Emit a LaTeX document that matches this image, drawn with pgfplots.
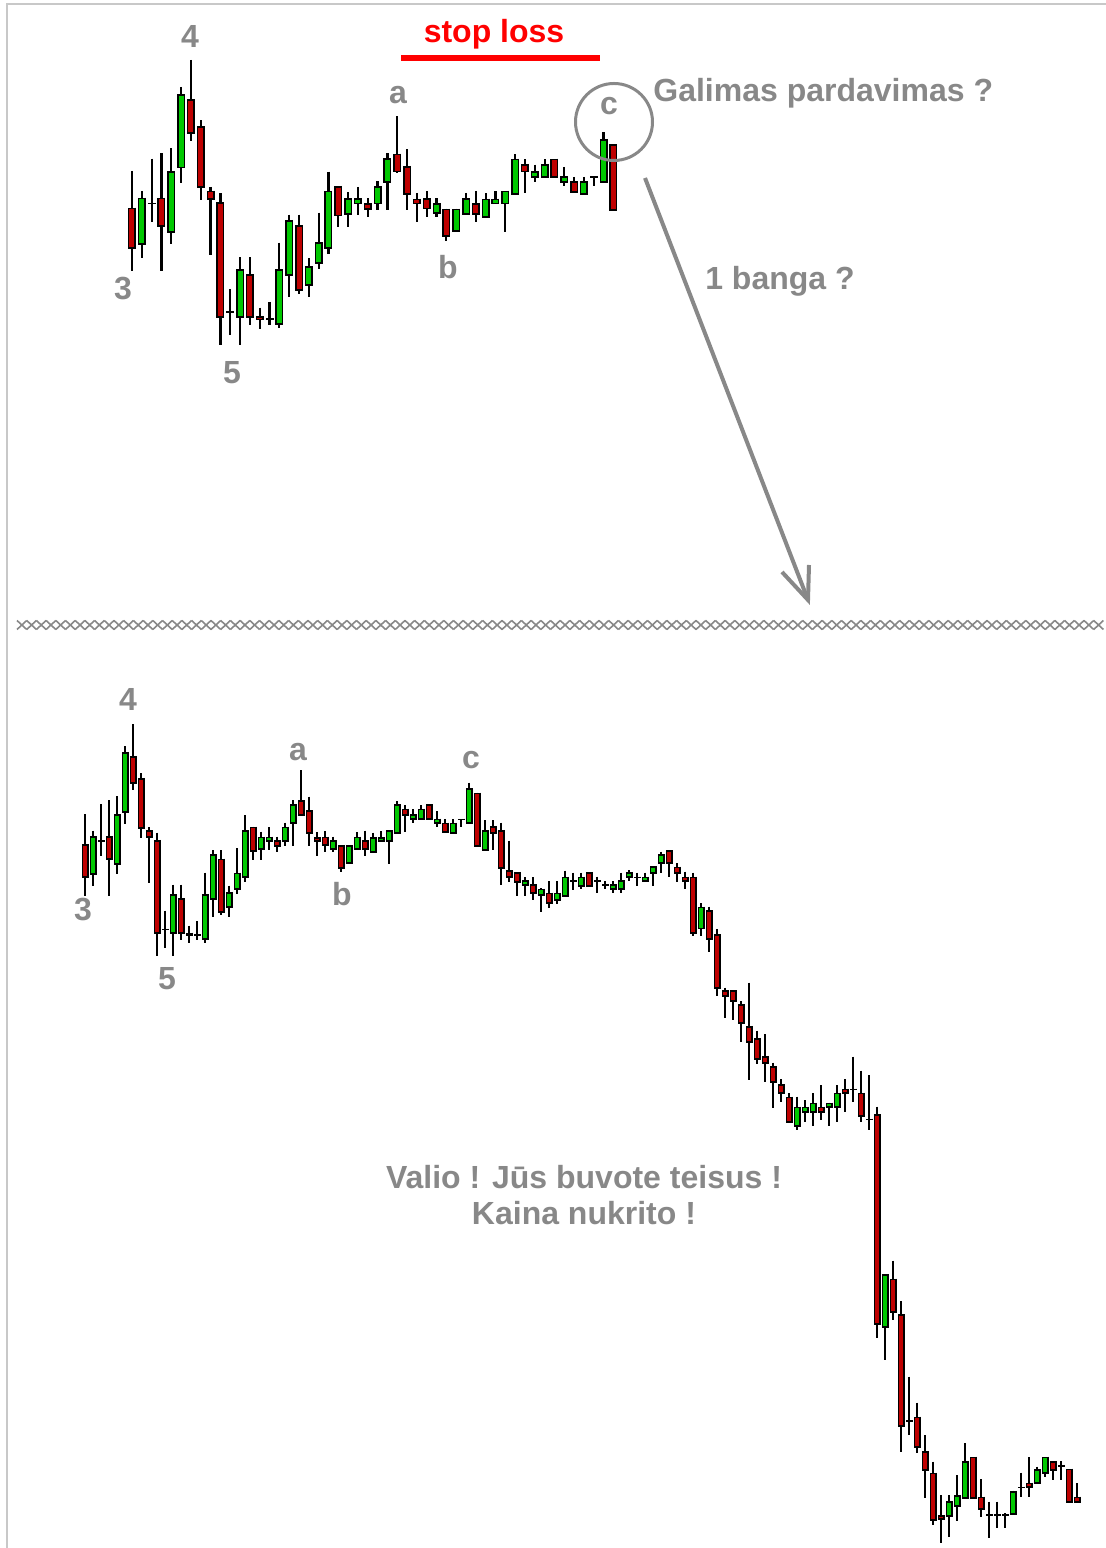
\documentclass[border=0pt]{standalone}
\usepackage{fontspec}
\setmainfont{Liberation Sans}
\usepackage{pgfplots}
\usepackage{pgfplotstable}
\pgfplotsset{compat=1.18}

\definecolor{candleup}{RGB}{0,200,0}
\definecolor{candledn}{RGB}{190,0,0}
\definecolor{lblgray}{RGB}{136,136,136}
\definecolor{framegray}{RGB}{200,200,200}

% candles in bottom-panel pixels: i h(wick top) l(wick bottom) o c
\pgfplotstableread{
i h l o c
0 814.3 896 845 877.3
1 830.7 885.7 874 836.7
2 804.3 856 841 841
3 800 896 836.7 859.3
4 796 874 864 815
5 746 824 811.7 752.7
6 724 790 756.7 783.3
7 773.3 838.3 778.7 827.7
8 827.3 882.7 831 837.3
9 832.7 956 840.7 933.3
10 910.7 948.3 929.3 929.3
11 884.7 956 933.3 895
12 884.7 940 899 933.3
13 925.7 943.3 933.3 935
14 921 940 935 935
15 872.7 942.7 939.3 895
16 850 916.7 899.3 855
17 850 915 859.3 911.7
18 885.7 916.7 907.3 892.7
19 848.3 894 889.3 873.3
20 815 881.7 877.3 831
21 826.7 860 827.3 850.7
22 831.7 860 849.3 837.3
23 827.3 850 841 837.3
24 836.7 851.7 841 845.7
25 822.7 846 841 827.3
26 800 846 823.3 804.7
27 770 815.7 801 815
28 796.7 846 811 833.3
29 832.3 856 837.7 841
30 831 851.7 837.3 845
31 836.7 852.3 849 841
32 845 871.7 845.7 867.7
33 845 864 863.3 845.7
34 832.3 850 849.3 837.3
35 830.7 856 841 849.3
36 832.7 851.7 851.7 837.7
37 831 841.7 841 837.7
38 831 864 841 831
39 801 833.3 833.3 805
40 805 832.3 809.3 815
41 809.3 823.3 819.3 815
42 805 820 819.3 809.3
43 805 819.3 805 819.3
44 811 826.7 823.3 819.3
45 819.3 832.3 823.3 831.7
46 819.3 833.3 833.3 823.3
47 819.3 826.7 819.3 819.3
48 782.7 823.3 823.3 789
49 792.7 846 793.3 846
50 820 850 850 830.7
51 820 850 826.7 833.3
52 822.7 885 830.7 867.7
53 840.7 881.7 871 877.3
54 872.7 896 872.7 881.7
55 877.3 896 885 881
56 877.3 900 885 893.3
57 888.3 911.7 895 889.3
58 881 908.3 893.3 903.3
59 881 904 900 893.3
60 870.7 896 896 877.3
61 872.7 890 881 881
62 872.7 889.3 885.7 877.3
63 872.7 885.7 872.7 885.7
64 876.7 893.3 881 881
65 881 889.3 885 885
66 881 893.3 889.3 885
67 872.7 893.3 889.3 881
68 870 881 877.3 872.7
69 872.7 885.7 877.3 877.3
70 872.7 881.7 881 877.3
71 866.7 885.7 873.3 866.7
72 851.7 873.3 863.3 855
73 850.7 877.3 851 863.3
74 863.3 881.7 867.3 873.3
75 871.7 889.3 877.3 881
76 872.7 936 877.3 933.3
77 903.3 936 928.5 907.5
78 906.7 951.7 911 939.3
79 929 996 935 987.7
80 987.7 1018.3 991 996
81 991 1020 991 1001
82 1001 1041.7 1005 1023.3
83 982.7 1080 1026.7 1041.7
84 1030.7 1064 1039 1059.3
85 1034 1081.7 1056.7 1063.3
86 1062.7 1108.3 1066.7 1081.7
87 1079.3 1101.7 1085 1093.3
88 1093.3 1121.7 1097.3 1121.7
89 1096.7 1130 1125.7 1107.3
90 1100 1121.7 1111.7 1107.3
91 1093.3 1125.7 1111.7 1103.3
92 1085 1120 1107.3 1111.7
93 1102.7 1125.7 1107.3 1103.3
94 1085 1121.7 1107.3 1093.3
95 1079.3 1111.7 1089.3 1093.3
96 1056.7 1101.7 1089.3 1089.3
97 1070.7 1121.7 1093.3 1116
98 1075 1130 1119.3 1119.3
99 1106.7 1338.3 1115 1324
100 1275 1360 1327.3 1275
101 1260.7 1320 1279.3 1311.7
102 1301 1451.7 1315 1426
103 1376.7 1435 1421 1421
104 1402.7 1452.7 1417.3 1447.3
105 1435 1498.3 1451.7 1470
106 1461.7 1525 1473.3 1520
107 1495 1542.7 1515.7 1519.3
108 1495 1536.7 1516 1501.7
109 1475 1520.7 1506 1496
110 1443.3 1498.3 1498.3 1461.7
111 1457.3 1498.3 1457.3 1498.3
112 1479 1516.7 1497.3 1509.3
113 1501.7 1538.3 1515 1515
114 1501.7 1528.3 1515 1515
115 1513.3 1528.3 1515 1515
116 1490.7 1514 1514 1491.7
117 1472.7 1496.7 1487.3 1487.3
118 1457.3 1496.7 1483.3 1487.3
119 1466.7 1483.3 1483.3 1470
120 1457.3 1476.7 1473.3 1457.3
121 1461 1480 1461.7 1470
122 1461 1480 1465.7 1465.7
123 1469.3 1501.7 1469.3 1501.7
124 1483.3 1501.7 1497.3 1501.7
}\candledata

% #1 wick width, #2 body outline width, #3 body fill width, #4 outline pad, #5 fill pad
\newcommand{\candleplots}[5]{%
  \addplot[draw=none, forget plot, error bars/.cd, y dir=plus, y explicit, error mark=none,
    error bar style={draw=black, line width=#1}]
    table[x=i, y=h, y error plus expr={\thisrow{l}-\thisrow{h}}] {\candledata};
  \addplot[draw=none, forget plot, error bars/.cd, y dir=plus, y explicit, error mark=none,
    error bar style={draw=black, line width=#2}]
    table[x=i, y expr={min(\thisrow{o},\thisrow{c})-#4},
      y error plus expr={abs(\thisrow{o}-\thisrow{c})+2*#4}] {\candledata};
  \addplot[draw=none, forget plot, restrict expr to domain={\thisrow{o}-\thisrow{c}}{0.5:5000},
    error bars/.cd, y dir=plus, y explicit, error mark=none,
    error bar style={draw=candleup, line width=#3}]
    table[x=i, y expr={\thisrow{c}+#5},
      y error plus expr={max(\thisrow{o}-\thisrow{c}-2*#5,0)}] {\candledata};
  \addplot[draw=none, forget plot, restrict expr to domain={\thisrow{c}-\thisrow{o}}{0.5:5000},
    error bars/.cd, y dir=plus, y explicit, error mark=none,
    error bar style={draw=candledn, line width=#3}]
    table[x=i, y expr={\thisrow{o}+#5},
      y error plus expr={max(\thisrow{c}-\thisrow{o}-2*#5,0)}] {\candledata};
}

\pgfplotsset{
  panel/.style={scale only axis, width=553pt, height=774pt, hide axis,
    y dir=reverse, clip=false, at={(0,0)}, anchor=south west},
}

\begin{document}
\begin{tikzpicture}
% top panel: same candles, larger scale, up to the c wave
\begin{axis}[panel, xmin=-13.436, xmax=99.145, ymin=675.2, ymax=1935.8,
  restrict x to domain=0:49]
\candleplots{1.1pt}{4pt}{2.5pt}{0.65}{0.75}
\end{axis}
% bottom panel: what happened afterwards
\begin{axis}[panel, xmin=-10.625, xmax=127.625, ymin=0, ymax=1548]
\candleplots{1pt}{3.5pt}{2.2pt}{0.8}{0.9}
\end{axis}

\begin{scope}[x=0.5pt, y=-0.5pt, yshift=774pt,
  lbl/.style={font=\fontsize{16}{19}\selectfont\bfseries, text=lblgray, inner sep=0pt, anchor=base}]
  \draw[framegray, line width=1pt] (7,1548) -- (7,4) -- (1106,4);
  % separator
  \foreach \k in {0,...,111} {
    \draw[lblgray, line width=0.8pt] ({17+9.7*\k},620.5) -- ({17+9.7*(\k+1)},629.5)
      ({17+9.7*\k},629.5) -- ({17+9.7*(\k+1)},620.5);
  }
  % top labels
  \node[lbl] at (190,48) {4};
  \node[lbl] at (123,300) {3};
  \node[lbl] at (232,384) {5};
  \node[lbl] at (398,104) {a};
  \node[lbl] at (448,279) {b};
  \node[lbl] at (609,115) {c};
  \node[lbl, text=red] at (494,43) {stop loss};
  \draw[red, line width=3pt] (401,58) -- (600,58);
  \node[lbl, anchor=base west] at (653,102) {Galimas pardavimas ?};
  \node[lbl] at (780,290) {1 banga ?};
  \draw[lblgray, line width=1.5pt] (614,122) circle[radius=38.5];
  \draw[lblgray, line width=2pt] (645,178) -- (808,600);
  \draw[lblgray, line width=2pt] (782,572) -- (808,600) -- (809,565);
  % bottom labels
  \node[lbl] at (128,711) {4};
  \node[lbl] at (83,921) {3};
  \node[lbl] at (167,990) {5};
  \node[lbl] at (298,761) {a};
  \node[lbl] at (342,906) {b};
  \node[lbl] at (471,769) {c};
  \node[lbl] at (584,1189) {Valio ! Jūs buvote teisus !};
  \node[lbl] at (584,1225) {Kaina nukrito !};
\end{scope}
\pgfresetboundingbox
\path[use as bounding box] (0,0) rectangle (553pt,774pt);
\end{tikzpicture}
\end{document}
